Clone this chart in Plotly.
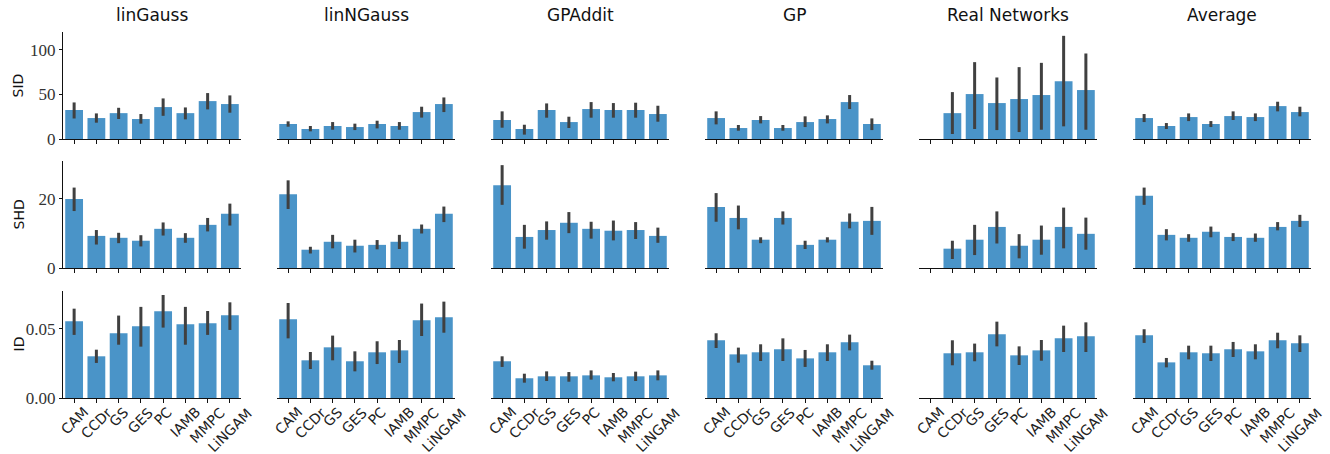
import plotly.graph_objects as go
from plotly.subplots import make_subplots

methods = ["CAM", "CCDr", "GS", "GES", "PC", "IAMB", "MMPC", "LiNGAM"]
datasets = ["linGauss", "linNGauss", "GPAddit", "GP", "Real Networks", "Average"]
metrics = ["SID", "SHD", "ID"]

# SID: mean, lower and upper error bounds (one row per dataset)
sid_mean = [
    [32.5, 23.5, 29.0, 22.4, 35.8, 29.0, 42.5, 39.2],
    [16.8, 11.2, 14.6, 13.4, 16.8, 14.6, 30.2, 39.2],
    [21.3, 11.2, 32.5, 19.0, 33.6, 32.5, 32.5, 28.0],
    [23.5, 12.3, 21.3, 12.3, 19.0, 22.4, 41.4, 16.8],
    [0.0, 29.0, 50.4, 40.3, 44.8, 49.3, 64.9, 54.9],
    [23.5, 14.6, 24.6, 16.8, 25.7, 24.6, 36.9, 30.2],
]
sid_lo = [
    [23.0, 18.3, 22.4, 17.2, 26.0, 22.0, 33.2, 29.5],
    [13.8, 8.6, 10.4, 10.0, 11.9, 10.4, 24.0, 30.2],
    [12.7, 4.9, 23.9, 12.3, 23.9, 23.9, 23.9, 19.4],
    [16.4, 9.3, 17.5, 9.3, 13.4, 17.5, 33.6, 10.0],
    [0.0, 5.6, 11.2, 10.0, 7.8, 10.4, 14.2, 10.4],
    [19.0, 11.2, 20.1, 13.4, 21.3, 20.1, 31.0, 25.4],
]
sid_hi = [
    [41.0, 28.7, 35.0, 28.0, 45.5, 35.4, 51.5, 48.9],
    [19.8, 14.6, 19.0, 17.2, 20.5, 19.0, 36.2, 46.6],
    [31.0, 16.0, 39.9, 25.0, 41.4, 40.3, 40.7, 37.3],
    [31.0, 15.7, 25.7, 15.7, 25.4, 26.5, 49.3, 23.1],
    [0.0, 52.6, 86.2, 69.0, 80.6, 85.4, 115.7, 95.9],
    [28.0, 17.9, 28.7, 20.1, 31.0, 28.7, 41.8, 36.2],
]

shd_mean = [
    [20.0, 9.3, 8.75, 7.9, 11.35, 8.75, 12.5, 15.7],
    [21.4, 5.3, 7.6, 6.45, 6.7, 7.6, 11.35, 15.7],
    [24.0, 9.0, 11.0, 13.1, 11.35, 10.8, 11.0, 9.3],
    [17.7, 14.5, 8.2, 14.5, 6.7, 8.2, 13.4, 13.65],
    [0.0, 5.6, 8.2, 11.9, 6.45, 8.2, 11.9, 9.9],
    [20.9, 9.6, 8.75, 10.5, 9.0, 8.75, 11.9, 13.65],
]
shd_lo = [
    [16.5, 6.8, 7.2, 6.25, 9.4, 7.3, 10.6, 12.3],
    [17.1, 4.2, 5.7, 4.5, 5.4, 5.5, 10.0, 13.3],
    [18.3, 5.6, 8.2, 10.1, 8.5, 8.0, 8.4, 7.3],
    [13.4, 11.2, 7.2, 12.6, 5.5, 7.4, 11.5, 9.6],
    [0.0, 2.6, 3.75, 7.1, 2.8, 3.85, 5.7, 5.3],
    [18.3, 8.0, 7.6, 8.9, 7.8, 7.6, 10.9, 11.9],
]
shd_hi = [
    [23.3, 11.0, 10.2, 9.5, 13.2, 10.1, 14.5, 18.65],
    [25.4, 6.15, 9.6, 8.2, 8.1, 9.6, 12.6, 17.8],
    [29.8, 12.5, 13.5, 16.2, 13.4, 13.75, 13.3, 11.7],
    [21.7, 18.1, 8.9, 16.4, 7.9, 8.9, 15.8, 17.7],
    [0.0, 7.9, 12.5, 16.4, 9.8, 12.3, 17.5, 14.6],
    [23.3, 11.25, 9.8, 12.0, 10.1, 10.0, 13.3, 15.4],
]

id_mean = [
    [0.0556, 0.0302, 0.0469, 0.0519, 0.0628, 0.0534, 0.0541, 0.0599],
    [0.0570, 0.0273, 0.0367, 0.0266, 0.0331, 0.0345, 0.0563, 0.0585],
    [0.0266, 0.0143, 0.0157, 0.0157, 0.0164, 0.0150, 0.0157, 0.0164],
    [0.0418, 0.0316, 0.0331, 0.0353, 0.0287, 0.0331, 0.0403, 0.0237],
    [0.0, 0.0324, 0.0331, 0.0461, 0.0309, 0.0345, 0.0432, 0.0447],
    [0.0454, 0.0258, 0.0331, 0.0324, 0.0353, 0.0338, 0.0418, 0.0396],
]
id_lo = [
    [0.0457, 0.0254, 0.0386, 0.0372, 0.0510, 0.0386, 0.0457, 0.0493],
    [0.0432, 0.0210, 0.0273, 0.0193, 0.0246, 0.0254, 0.0449, 0.0473],
    [0.0225, 0.0111, 0.0123, 0.0118, 0.0133, 0.0121, 0.0123, 0.0128],
    [0.0362, 0.0256, 0.0268, 0.0268, 0.0225, 0.0268, 0.0345, 0.0205],
    [0.0, 0.0237, 0.0266, 0.0374, 0.0239, 0.0270, 0.0333, 0.0333],
    [0.0399, 0.0222, 0.0280, 0.0268, 0.0297, 0.0280, 0.0360, 0.0333],
]
id_hi = [
    [0.0647, 0.0350, 0.0597, 0.0660, 0.0746, 0.0660, 0.0630, 0.0693],
    [0.0688, 0.0333, 0.0452, 0.0338, 0.0411, 0.0420, 0.0684, 0.0698],
    [0.0302, 0.0176, 0.0193, 0.0188, 0.0200, 0.0181, 0.0191, 0.0200],
    [0.0469, 0.0365, 0.0389, 0.0432, 0.0348, 0.0389, 0.0459, 0.0270],
    [0.0, 0.0418, 0.0394, 0.0553, 0.0374, 0.0420, 0.0524, 0.0548],
    [0.0498, 0.0290, 0.0379, 0.0379, 0.0406, 0.0389, 0.0473, 0.0454],
]

y_ranges = [[0, 120], [0, 31], [0, 0.0775]]
y_tickvals = [[0, 50, 100], [0, 20], [0, 0.05]]
y_ticktext = [["0", "50", "100"], ["0", "20"], ["0.00", "0.05"]]

W, H = 1330, 454
BAR = "#4a94c8"
ERR = "#404040"

fig = make_subplots(rows=3, cols=6)

means = [sid_mean, shd_mean, id_mean]
los = [sid_lo, shd_lo, id_lo]
his = [sid_hi, shd_hi, id_hi]

for r in range(3):
    for c in range(6):
        m = means[r][c]
        lo = los[r][c]
        hi = his[r][c]
        fig.add_trace(
            go.Bar(
                x=methods, y=m, marker_color=BAR, marker_line_width=0,
                width=0.8,
                error_y=dict(type="data", symmetric=False,
                             array=[h - v for h, v in zip(hi, m)],
                             arrayminus=[v - l for v, l in zip(m, lo)],
                             thickness=3, width=0, color=ERR),
                showlegend=False, hoverinfo="skip",
            ),
            row=r + 1, col=c + 1,
        )

# panel geometry in pixels
col_left = [63 + 214 * i for i in range(6)]
panel_w = 178
row_top = [32, 161, 291]
panel_h = 107

tick_font = dict(family="Liberation Serif", size=17, color="#333333")
cat_font = dict(family="DejaVu Sans", size=14, color="#222222")

for r in range(3):
    for c in range(6):
        idx = r * 6 + c + 1
        xa = "xaxis" if idx == 1 else f"xaxis{idx}"
        ya = "yaxis" if idx == 1 else f"yaxis{idx}"
        x0 = col_left[c] / W
        x1 = (col_left[c] + panel_w) / W
        y1 = 1 - row_top[r] / H
        y0 = 1 - (row_top[r] + panel_h) / H
        fig.layout[xa].update(
            domain=[x0, x1], range=[-0.5, 7.5], showline=True, linecolor="#111111",
            linewidth=1.2, ticks="outside", ticklen=4, tickcolor="#111111", tickwidth=1,
            showgrid=False, zeroline=False, automargin=False,
            showticklabels=False, fixedrange=True,
        )
        fig.layout[ya].update(
            domain=[y0, y1], range=y_ranges[r], showgrid=False, zeroline=False,
            fixedrange=True, automargin=False,
        )
        if c == 0:
            fig.layout[ya].update(
                showline=True, linecolor="#111111", linewidth=1.2, ticks="outside",
                ticklen=3, tickcolor="#111111", tickvals=y_tickvals[r],
                ticktext=y_ticktext[r], tickfont=tick_font,
            )
        else:
            fig.layout[ya].update(showline=False, showticklabels=False, ticks="")

annotations = []
for c, name in enumerate(datasets):
    annotations.append(dict(
        text=name, x=(col_left[c] + panel_w / 2) / W, y=1 - 15 / H,
        xref="paper", yref="paper", showarrow=False, xanchor="center", yanchor="middle",
        font=dict(family="DejaVu Sans", size=17, color="#111111"),
    ))
for r, name in enumerate(metrics):
    annotations.append(dict(
        text=name, x=18 / W, y=1 - (row_top[r] + panel_h / 2) / H,
        xref="paper", yref="paper", showarrow=False, xanchor="center", yanchor="middle",
        textangle=-90, font=dict(family="DejaVu Sans", size=14, color="#111111"),
    ))
# rotated category labels, centred under each tick (bottom row)
label_top = 1 - (row_top[2] + panel_h + 5) / H
for c in range(6):
    xref = f"x{12 + c + 1}"
    for i, name in enumerate(methods):
        annotations.append(dict(
            text=name, x=i, y=label_top, xref=xref, yref="paper",
            showarrow=False, xanchor="center", yanchor="top", textangle=-45,
            font=cat_font, borderpad=0,
        ))

fig.update_layout(
    width=W, height=H, margin=dict(l=0, r=0, t=0, b=0, autoexpand=False),
    paper_bgcolor="white", plot_bgcolor="white", bargap=0.2,
    annotations=annotations,
)

fig.write_html("out.html", config={"displayModeBar": False},
               post_script="document.body.style.margin='0px';")
